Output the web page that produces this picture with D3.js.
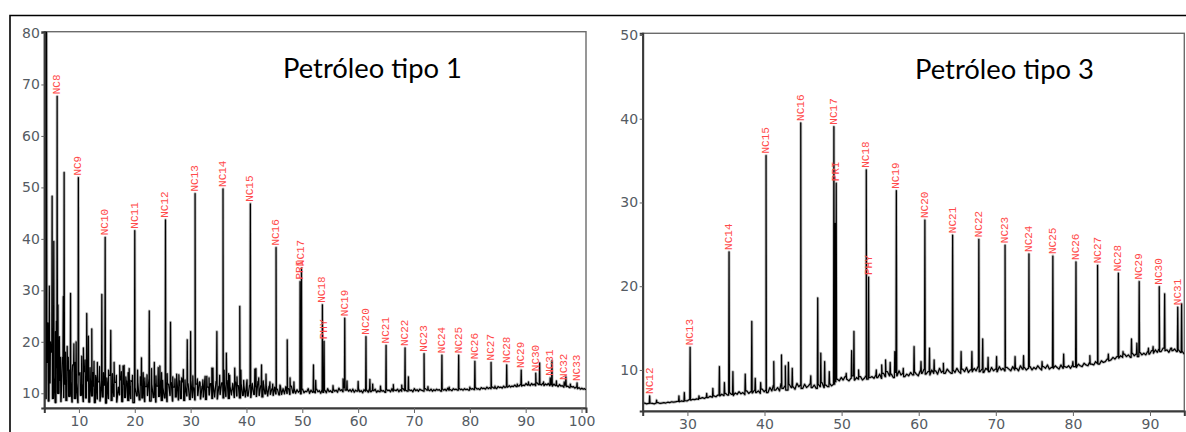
<!DOCTYPE html>
<html>
<head>
<meta charset="utf-8">
<script src="https://cdn.jsdelivr.net/npm/d3@7"></script>
<style>
  body { margin: 0; background: #fff; }
  svg { display: block; }
</style>
</head>
<body>
<script>
// ---------- Petróleo tipo 1 ----------
// detector baseline, sampled every 0.25 min starting at 3.8 min
const crude1Start = 3.8;
const crude1Baseline = [
  14, 9, 16, 8.5, 12, 18, 9, 13, 8.2, 15, 10, 12.5, 8.4, 17, 9.2, 11.8, 8.6, 14.5, 9.4, 12.2,
  8.3, 15.5, 9.0, 11.9, 8.2, 13.6, 9.6, 11.8, 8.4, 14.2, 9.1, 12.4, 8.3, 12.6, 9.5, 11.4, 8.2, 13.1, 8.9, 12.2,
  8.5, 12.4, 9.3, 11.6, 8.1, 12.3, 9.0, 13.5, 8.6, 11.9, 9.4, 12.1, 8.3, 11.2, 9.7, 12.6, 8.4, 11.8, 9.2, 12.4,
  8.6, 11.5, 9.0, 12.3, 8.2, 11.1, 9.5, 12.0, 8.7, 11.6, 9.1, 12.4, 8.4, 11.3, 9.6, 12.8, 8.5, 11.7, 9.2, 12.0,
  8.3, 11.4, 9.4, 12.6, 8.6, 11.0, 9.1, 12.2, 8.4, 11.8, 9.6, 12.1, 8.5, 11.2, 9.3, 12.5, 8.7, 11.5, 9.0, 12.2,
  8.6, 11.3, 9.5, 11.9, 8.8, 12.4, 9.2, 11.1, 8.7, 11.8, 9.6, 12.2, 8.9, 11.4, 9.3, 12.7, 8.8, 11.2, 9.7, 11.9,
  9.0, 11.6, 9.3, 12.3, 8.9, 11.4, 9.8, 12.0, 9.1, 11.7, 9.4, 12.5, 9.0, 11.3, 9.7, 11.9, 9.2, 12.2, 9.5, 11.5,
  9.1, 11.8, 9.6, 11.4, 9.3, 12.1, 9.5, 11.6, 9.2, 11.9, 9.8, 11.3, 9.4, 12.3, 9.6, 11.5, 9.3, 11.8, 9.9, 11.4,
  9.5, 11.4, 9.8, 10.9, 9.6, 11.2, 9.9, 10.8, 9.7, 11.5, 9.8, 10.9, 9.9, 11.3, 10.0, 10.9, 9.8, 11.4, 10.1, 10.8,
  10.0, 10.7, 10.2, 10.5, 9.9, 10.8, 10.1, 10.4, 10.3, 10.9, 10.0, 10.6, 10.2, 10.4, 10.1, 10.8, 10.3, 10.5, 10.0, 10.7,
  10.2, 10.6, 10.1, 10.9, 10.3, 10.5, 10.2, 10.8, 10.4, 10.6, 10.2, 11.0, 10.5, 10.7, 10.3, 11.1, 10.6, 10.8, 10.4, 10.7,
  10.3, 10.8, 10.2, 10.6, 10.4, 10.9, 10.3, 10.5, 10.1, 10.7, 10.4, 10.6, 10.2, 10.9, 10.3, 10.6, 10.5, 10.8, 10.2, 10.5,
  10.3, 10.7, 10.4, 10.5, 10.2, 10.8, 10.5, 10.6, 10.3, 10.9, 10.4, 10.6, 10.5, 10.8, 10.3, 10.7, 10.4, 10.9, 10.5, 10.6,
  10.4, 10.8, 10.5, 10.6, 10.3, 10.9, 10.5, 10.7, 10.4, 10.8, 10.6, 10.5, 10.4, 10.9, 10.6, 10.7, 10.5, 10.8, 10.4, 10.7,
  10.5, 10.8, 10.6, 10.7, 10.4, 10.9, 10.6, 10.8, 10.5, 11.0, 10.6, 10.7, 10.5, 10.9, 10.7, 10.8, 10.6, 11.0, 10.7, 10.8,
  10.6, 10.9, 10.7, 10.8, 10.6, 11.0, 10.8, 10.9, 10.7, 11.1, 10.8, 10.9, 10.7, 11.1, 10.9, 11.0, 10.8, 11.2, 10.9, 11.1,
  10.9, 11.2, 11.0, 11.1, 10.9, 11.3, 11.1, 11.2, 11.0, 11.4, 11.1, 11.3, 11.2, 11.5, 11.2, 11.4, 11.3, 11.6, 11.3, 11.5,
  11.4, 11.7, 11.4, 11.6, 11.5, 11.9, 11.6, 11.7, 11.5, 11.9, 11.6, 11.8, 11.5, 12.0, 11.7, 11.8, 11.6, 11.9, 11.5, 11.8,
  11.6, 11.9, 11.5, 11.7, 11.4, 11.8, 11.5, 11.6, 11.3, 11.7, 11.4, 11.5, 11.2, 11.6, 11.3, 11.4, 11.1, 11.4, 11.2, 11.3,
  11.0, 11.2, 10.9, 11.1, 10.8, 11.0, 10.8, 10.9, 10.7
];
// named n-alkane / isoprenoid peaks
const crude1Names   = ["NC8","NC9","NC10","NC11","NC12","NC13","NC14","NC15","NC16","PRI","NC17","NC18","PHY","NC19","NC20","NC21","NC22","NC23","NC24","NC25","NC26","NC27","NC28","NC29","NC30","NC31","NC32","NC33"];
const crude1Times   = [6.1, 9.9, 14.7, 20.0, 25.5, 30.8, 35.8, 40.7, 45.3, 49.6, 49.85, 53.6, 53.9, 57.6, 61.4, 65.0, 68.4, 71.8, 75.0, 78.0, 80.9, 83.8, 86.6, 89.2, 91.8, 94.4, 96.9, 99.2];
const crude1Heights = [67.7, 51.9, 40.3, 41.6, 43.7, 48.8, 49.7, 46.8, 38.3, 31.7, 34.3, 27.2, 20.1, 24.6, 21.0, 19.3, 18.8, 17.7, 17.4, 17.4, 16.2, 16.0, 15.5, 14.5, 13.9, 13.0, 12.2, 12.0];
// unnamed peaks [time, height]
const crude1Minor = [
  [3.95, 81], [4.2, 81], [4.45, 23.7], [4.7, 30.8], [4.9, 20], [5.2, 48.3], [5.5, 39.5], [5.8, 22],
  [5.95, 24], [6.25, 27.2], [6.5, 21], [6.7, 17], [7.2, 28.8], [7.35, 52.9], [7.6, 18], [7.9, 19.1],
  [8.1, 17], [8.3, 14.5], [8.5, 29.4], [8.8, 14], [9.1, 19.6], [9.3, 16], [9.5, 20], [10.2, 14],
  [10.5, 17.2], [10.8, 18.8], [11.1, 16.5], [11.4, 25.5], [11.7, 21.1], [12.0, 15], [12.3, 22.5], [12.5, 14],
  [12.7, 16.2], [13.0, 13.5], [13.3, 16], [13.7, 15.2], [14.1, 29.2], [14.4, 14], [15.0, 13], [15.3, 14.5],
  [15.7, 22.2], [16.0, 13.8], [16.3, 16], [16.7, 13.5], [17.3, 15.4], [17.6, 14.2], [17.9, 15.3], [18.1, 15.4],
  [18.4, 13.2], [18.8, 14], [19.0, 14.8], [19.3, 12.5], [19.6, 13.5], [20.5, 14.5], [21.0, 13.2], [21.2, 16.9],
  [21.5, 14], [21.8, 13], [22.2, 13.6], [22.6, 26], [23.0, 14.8], [23.5, 16], [23.8, 13.4], [24.2, 15],
  [24.5, 15.3], [24.8, 14], [25.0, 12.5], [25.8, 13.8], [26.4, 23.8], [26.8, 13.2], [27.2, 12.8], [27.5, 13.7],
  [27.9, 13.6], [28.1, 12.4], [28.4, 13.0], [28.7, 14.6], [29.0, 12.6], [29.4, 20.4], [30.0, 22.0], [30.4, 13.4],
  [31.2, 12.8], [31.7, 12], [32.2, 12.6], [32.6, 13.3], [32.9, 13.3], [33.3, 13], [33.8, 14.9], [34.0, 14.9],
  [34.7, 22.0], [35.2, 13.5], [36.0, 14.5], [36.4, 17.8], [36.8, 13.8], [37.0, 13.5], [37.9, 14.9], [38.3, 13.2],
  [38.8, 26.9], [39.0, 14.5], [39.5, 12.5], [40.1, 12.6], [41.5, 14.7], [41.7, 14.8], [42.2, 13.0], [42.7, 15.5],
  [43.0, 12.4], [43.5, 13.7], [44.2, 12.2], [44.7, 11.8], [46.0, 11.6], [47.3, 20.4], [47.8, 13], [48.5, 12.2],
  [52.0, 15.5], [52.4, 12.5], [55.5, 11.5], [57.3, 12.8], [58.0, 12.4], [60.0, 12.3], [62.1, 12.7], [62.6, 11.8],
  [64.0, 11.4], [66.3, 11.7], [67.8, 11.6], [69.0, 13.2], [72.5, 11.3], [76.3, 11.2], [80.0, 11.2], [84.5, 11.4],
  [88.5, 11.8], [90.5, 12.2], [92.5, 15.9], [93.2, 12.2], [94.7, 16.3], [95.5, 12.4], [97.2, 13.2], [98.0, 11.8]
];
const crude1XTicks = [10, 20, 30, 40, 50, 60, 70, 80, 90, 100];
const crude1YTicks = [10, 20, 30, 40, 50, 60, 70, 80];

// ---------- Petróleo tipo 3 ----------
// detector baseline, sampled every 0.25 min starting at 24.2 min
const crude3Start = 24.2;
const crude3Baseline = [
  6.0, 6.05, 5.95, 6.0, 6.05, 6.0, 5.95, 6.05, 6.1, 6.0, 6.05, 6.1, 6.05, 6.15, 6.1, 6.2, 6.15, 6.2, 6.25, 6.2,
  6.3, 6.25, 6.35, 6.3, 6.45, 6.4, 6.5, 6.45, 6.55, 6.5, 6.6, 6.7, 6.6, 6.75, 6.7, 6.85, 6.75, 6.9, 6.8, 7.0,
  6.9, 7.1, 6.95, 7.2, 7.0, 7.3, 7.1, 6.95, 7.25, 7.1, 7.4, 7.15, 7.3, 7.05, 7.5, 7.2, 7.4, 7.25, 7.6, 7.3,
  7.5, 7.2, 7.7, 7.4, 7.6, 7.3, 7.9, 7.5, 8.2, 7.6, 7.9, 7.5, 8.4, 7.8, 8.1, 7.6, 8.3, 7.9, 8.0, 7.7,
  8.4, 8.0, 8.2, 7.8, 8.3, 7.9, 8.1, 8.4, 7.9, 8.2, 7.8, 8.3, 8.0, 8.5, 7.9, 8.2, 8.0, 8.4, 8.1, 8.3,
  8.6, 8.9, 8.7, 9.1, 8.8, 9.2, 8.9, 8.7, 9.0, 9.3, 8.8, 9.1, 8.9, 9.2, 8.8, 9.0, 9.3, 8.9, 9.1, 9.2,
  9.0, 9.4, 9.1, 9.5, 9.0, 9.6, 9.2, 9.8, 9.3, 9.5, 9.1, 9.7, 9.3, 9.9, 9.4, 9.6, 9.2, 9.5, 9.3, 9.7,
  9.4, 9.8, 9.5, 9.3, 9.9, 9.6, 10.1, 9.5, 9.8, 9.4, 10.0, 9.6, 9.9, 9.5, 10.2, 9.7, 9.9, 9.6, 10.1, 9.8,
  9.6, 10.0, 9.7, 10.2, 9.8, 9.6, 10.1, 9.8, 10.3, 9.7, 10.0, 9.8, 10.2, 9.9, 10.4, 9.8, 10.1, 9.7, 10.2, 10.0,
  9.8, 10.3, 9.9, 10.1, 9.8, 10.4, 10.0, 10.2, 9.9, 10.3, 10.1, 9.9, 10.4, 10.0, 10.2, 9.9, 10.5, 10.1, 10.3, 10.0,
  10.2, 10.4, 10.0, 10.3, 10.1, 10.5, 10.2, 10.0, 10.4, 10.2, 10.6, 10.1, 10.3, 10.2, 10.5, 10.3, 10.1, 10.6, 10.2, 10.4,
  10.3, 10.5, 10.2, 10.6, 10.4, 10.3, 10.7, 10.5, 10.4, 10.8, 10.6, 10.5, 10.9, 10.7, 10.6, 11.0, 10.8, 10.7, 11.1, 10.9,
  11.0, 11.3, 11.1, 11.2, 11.5, 11.3, 11.6, 11.4, 11.7, 11.5, 11.9, 11.6, 11.8, 11.5, 12.0, 11.7, 11.9, 11.6, 12.1, 11.8,
  12.0, 11.8, 12.2, 11.9, 12.3, 12.0, 12.4, 12.1, 12.5, 12.2, 12.6, 12.3, 12.4, 12.1, 12.6, 12.3, 12.5, 12.2, 12.4, 12.1,
  12.2, 11.9
];
const crude3Names   = ["NC12","NC13","NC14","NC15","NC16","NC17","PRI","NC18","PHY","NC19","NC20","NC21","NC22","NC23","NC24","NC25","NC26","NC27","NC28","NC29","NC30","NC31"];
const crude3Times   = [25.1, 30.35, 35.4, 40.2, 44.7, 49.0, 49.3, 53.2, 53.5, 57.1, 60.8, 64.4, 67.8, 71.2, 74.3, 77.4, 80.4, 83.2, 85.9, 88.6, 91.2, 93.6];
const crude3Heights = [6.9, 12.7, 24.1, 35.6, 39.5, 39.05, 32.3, 33.9, 21.1, 31.4, 27.9, 26.1, 25.6, 24.9, 23.85, 23.6, 22.9, 22.5, 21.55, 20.55, 19.95, 17.5];
const crude3Minor = [
  [26.0, 6.4], [28.9, 6.9], [29.6, 7.3], [31.5, 6.9], [32.5, 7.2], [33.3, 7.8], [34.15, 10.4], [34.8, 8.5],
  [35.9, 9.8], [37.5, 9.5], [38.35, 15.8], [38.8, 9.0], [39.5, 8.5], [41.2, 11.0], [42.2, 11.8], [42.7, 10.5],
  [43.1, 10.9], [43.6, 10.2], [46.0, 9.3], [46.9, 18.6], [47.3, 12.0], [47.8, 11.0], [48.4, 9.8], [49.15, 27.5],
  [50.6, 9.6], [51.3, 12.3], [51.6, 14.6], [52.2, 10.0], [54.5, 10.0], [55.2, 10.6], [55.7, 11.2], [56.3, 10.9],
  [56.9, 12.2], [58.0, 10.2], [59.4, 12.8], [60.3, 11.0], [61.4, 12.6], [62.0, 11.2], [63.2, 10.8], [65.5, 12.2],
  [66.9, 12.2], [68.3, 13.7], [69.0, 11.5], [70.1, 11.6], [72.5, 11.6], [73.6, 11.7], [76.0, 11.0], [78.8, 11.9],
  [80.0, 11.0], [82.2, 11.7], [84.6, 11.9], [86.5, 12.2], [87.6, 13.7], [88.3, 13.2], [89.8, 12.6], [90.4, 12.8],
  [91.9, 19.1], [92.8, 12.6], [94.1, 17.9]
];
const crude3XTicks = [30, 40, 50, 60, 70, 80, 90];
const crude3YTicks = [10, 20, 30, 40, 50];

const svg = d3.select("body").append("svg")
  .attr("width", 1186).attr("height", 432);

svg.append("rect").attr("width", 1186).attr("height", 432).attr("fill", "#fff");

// outer frame (left and top edges)
svg.append("path")
  .attr("d", "M10,432 V15.5 H1186")
  .attr("fill", "none").attr("stroke", "#000").attr("stroke-width", 1.6);

function drawPanel(cfg) {
  const x = d3.scaleLinear().domain(cfg.xDomain).range([cfg.left, cfg.right]);
  const y = d3.scaleLinear().domain(cfg.yDomain).range([cfg.bottom, cfg.top]);
  const g = svg.append("g");

  g.append("clipPath").attr("id", cfg.id + "-clip")
    .append("rect")
    .attr("x", cfg.left).attr("y", cfg.top)
    .attr("width", cfg.right - cfg.left).attr("height", cfg.bottom - cfg.top);

  // plot frame
  g.append("rect")
    .attr("x", cfg.left).attr("y", cfg.top)
    .attr("width", cfg.right - cfg.left).attr("height", cfg.bottom - cfg.top)
    .attr("fill", "none").attr("stroke", "#6b6b6b").attr("stroke-width", 1.4);

  // chromatogram trace: baseline samples plus narrow spikes at every peak
  const base = cfg.baseline;
  const pts = base.map((v, i) => [cfg.start + i * cfg.step, v]);
  const spikes = cfg.minor.concat(cfg.times.map((t, i) => [t, cfg.heights[i]]));
  spikes.forEach(([t, h]) => {
    const i = Math.max(0, Math.min(base.length - 2, Math.floor((t - cfg.start) / cfg.step)));
    pts.push([t - cfg.w, base[i]], [t, h], [t + cfg.w, base[i + 1]]);
  });
  pts.sort((a, b) => a[0] - b[0]);

  const line = d3.line().x(d => x(d[0])).y(d => y(d[1]));
  const trace = g.append("g").attr("clip-path", `url(#${cfg.id}-clip)`);
  // soft grey halo under the black signal line
  trace.append("path")
    .attr("d", line(pts))
    .attr("fill", "none")
    .attr("stroke", "#8c8c8c")
    .attr("stroke-opacity", 0.55)
    .attr("stroke-width", 3)
    .attr("stroke-linejoin", "round");
  trace.append("path")
    .attr("d", line(pts))
    .attr("fill", "none")
    .attr("stroke", "#000")
    .attr("stroke-width", 1.25)
    .attr("stroke-linejoin", "round");

  // axes
  const xAxis = g.append("g")
    .attr("transform", `translate(0,${cfg.bottom})`)
    .call(d3.axisBottom(x).tickValues(cfg.xTicks).tickSize(5).tickPadding(3).tickFormat(d3.format("d")));
  const yAxis = g.append("g")
    .attr("transform", `translate(${cfg.left},0)`)
    .call(d3.axisLeft(y).tickValues(cfg.yTicks).tickSize(3).tickPadding(1.5).tickFormat(d3.format("d")));
  [xAxis, yAxis].forEach(a => {
    a.select(".domain").attr("stroke", "#3a3a3a").attr("stroke-width", 2);
    a.selectAll(".tick line").attr("stroke", "#666");
    a.selectAll(".tick text")
      .attr("fill", "#555b63")
      .style("font-family", "'DejaVu Sans', sans-serif")
      .style("font-size", "14px");
  });

  // peak names, rotated above each apex
  g.selectAll("text.peak")
    .data(cfg.names)
    .join("text")
    .attr("class", "peak")
    .attr("transform", (d, i) => `translate(${x(cfg.times[i])},${y(cfg.heights[i]) - 2}) rotate(-90)`)
    .attr("text-anchor", "start")
    .attr("dominant-baseline", "central")
    .attr("fill", "#ff4a4a")
    .style("font-family", "'Liberation Mono', 'DejaVu Sans Mono', monospace")
    .style("font-size", "11px")
    .text(d => d);

  // panel title
  g.append("text")
    .attr("x", cfg.titleX).attr("y", cfg.titleY)
    .attr("textLength", cfg.titleW)
    .attr("lengthAdjust", "spacingAndGlyphs")
    .attr("fill", "#000")
    .style("font-family", "Lato, 'Open Sans', sans-serif")
    .style("font-size", "27px")
    .text(cfg.title);
}

drawPanel({
  id: "p1", title: "Petróleo tipo 1", titleX: 283, titleY: 78, titleW: 179,
  left: 44.3, right: 586, top: 31.7, bottom: 408,
  xDomain: [3.8, 100.8], yDomain: [7.14, 80.25],
  start: crude1Start, step: 0.25, w: 0.06,
  baseline: crude1Baseline, minor: crude1Minor,
  names: crude1Names, times: crude1Times, heights: crude1Heights,
  xTicks: crude1XTicks, yTicks: crude1YTicks
});

drawPanel({
  id: "p3", title: "Petróleo tipo 3", titleX: 915, titleY: 79, titleW: 179,
  left: 642.7, right: 1184.3, top: 33.3, bottom: 411,
  xDomain: [24.2, 94.45], yDomain: [5.1, 50.2],
  start: crude3Start, step: 0.25, w: 0.05,
  baseline: crude3Baseline, minor: crude3Minor,
  names: crude3Names, times: crude3Times, heights: crude3Heights,
  xTicks: crude3XTicks, yTicks: crude3YTicks
});
</script>
</body>
</html>
